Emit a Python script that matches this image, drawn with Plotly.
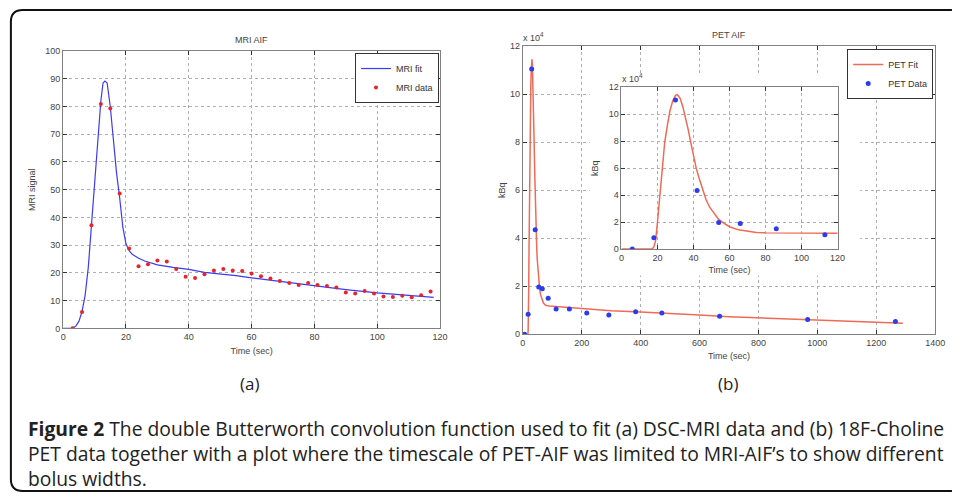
import numpy as np
import plotly.graph_objects as go

W, H = 957, 497

# ---------------- data ----------------
mri_time = [3, 6, 9, 12, 15, 18, 21, 24, 27, 30, 33, 36, 39, 42, 45, 48, 51, 54, 57, 60,
            63, 66, 69, 72, 75, 78, 81, 84, 87, 90, 93, 96, 99, 102, 105, 108, 111, 114, 117]
mri_signal = [0, 5.9, 37.2, 80.9, 79.3, 48.6, 28.8, 22.4, 23.1, 24.5, 24.1, 21.4, 18.6, 18.2,
              19.5, 20.9, 21.4, 20.9, 20.7, 19.8, 18.8, 18.0, 17.1, 16.4, 15.6, 16.4, 15.6,
              15.3, 14.7, 12.9, 12.6, 13.5, 12.6, 11.5, 11.3, 11.8, 11.2, 11.9, 13.3]

mri_fit_time = [0, 3, 4, 5, 6, 7, 8, 9, 10, 11, 12, 12.7, 13.3, 14, 15, 16, 17, 18, 19, 20,
                21, 22, 23, 24, 26, 30, 35, 40, 45, 50, 55, 60, 70, 80, 90, 100, 110, 118]
mri_fit = [0, 0, 0.8, 2.5, 6, 12, 22, 36, 50, 67, 82, 88.5, 89.2, 88.5, 80, 67, 56, 47, 36.5,
           30.5, 28, 26.7, 25.9, 25.3, 24.3, 22.9, 22.0, 21.3, 20.2, 19.7, 19.0, 18.2, 16.8,
           15.3, 14.0, 12.8, 12.0, 11.2]

pet_time = [6, 18, 30, 42, 54, 66, 86, 113, 158, 217, 292, 383, 472, 668, 967, 1265]
pet_kbq = [0, 8300, 110500, 43500, 19700, 18900, 15000, 10500, 10500, 8800, 8000, 9400,
           8800, 7500, 6100, 5300]

pet_fit_time = [0, 17, 18, 19, 20, 21, 22, 23, 24, 25.5, 27, 28.5, 30, 31, 32.5, 34, 35.5, 37,
                38.5, 40, 41.5, 43, 45, 47, 49, 51, 54, 57, 60, 65, 70, 75, 80, 90, 100, 120,
                200, 300, 400, 500, 600, 700, 800, 900, 1000, 1100, 1200, 1290]
pet_fit = [0, 0, 1500, 6600, 20000, 35000, 52000, 67000, 79000, 92000, 103000, 110000, 114000,
           114500, 112000, 106000, 98000, 89000, 79000, 69000, 60000, 53000, 44000, 36500,
           31000, 27000, 22000, 19000, 16500, 14200, 13000, 12300, 12000, 11800, 11700, 11600,
           10700, 9800, 9300, 8500, 8000, 7300, 6800, 6200, 5800, 5400, 5000, 4600]

caption_lines = [
    "<b>Figure 2</b> The double Butterworth convolution function used to fit (a) DSC-MRI data and (b) 18F-Choline",
    "PET data together with a plot where the timescale of PET-AIF was limited to MRI-AIF\u2019s to show different",
    "bolus widths.",
]

# ---------------- helpers ----------------
def px(x):
    return x / W


def py(y):
    return 1 - y / H


SCALE = 1e4
pet_y = np.array(pet_kbq) / SCALE
pet_fit_y = np.array(pet_fit) / SCALE

FONT = "Liberation Sans, Arial, sans-serif"
CAPFONT = "Open Sans, sans-serif"
TICKC = "#444444"
AXC = "#808080"
GRIDC = "#b0b0b0"

fig = go.Figure()

# MRI
fig.add_trace(go.Scatter(x=mri_fit_time, y=mri_fit, mode="lines", name="MRI fit",
                         line=dict(color="#3b3bf5", width=1.2), xaxis="x", yaxis="y",
                         legend="legend"))
fig.add_trace(go.Scatter(x=mri_time, y=mri_signal, mode="markers", name="MRI data",
                         marker=dict(color="#e8232a", size=4), xaxis="x", yaxis="y",
                         legend="legend"))
# PET main
fig.add_trace(go.Scatter(x=pet_fit_time, y=pet_fit_y, mode="lines", name="PET Fit",
                         line=dict(color="#f06a55", width=1.5), xaxis="x2", yaxis="y2",
                         legend="legend2"))
fig.add_trace(go.Scatter(x=pet_time, y=pet_y, mode="markers", name="PET Data",
                         marker=dict(color="#2a3cf0", size=5), xaxis="x2", yaxis="y2",
                         legend="legend2"))
# PET inset
fig.add_trace(go.Scatter(x=pet_fit_time, y=pet_fit_y, mode="lines", showlegend=False,
                         line=dict(color="#f06a55", width=1.5), xaxis="x3", yaxis="y3"))
fig.add_trace(go.Scatter(x=pet_time, y=pet_y, mode="markers", showlegend=False,
                         marker=dict(color="#2a3cf0", size=5), xaxis="x3", yaxis="y3"))


def axis(domain, rng, dtick, anchor, title=None, standoff=4):
    d = dict(domain=domain, range=rng, dtick=dtick, anchor=anchor,
             showline=True, linecolor=AXC, linewidth=1, mirror="ticks",
             ticks="inside", ticklen=4, tickcolor="#333333",
             showgrid=True, gridcolor=GRIDC, griddash="dot", gridwidth=1,
             zeroline=False, tickfont=dict(family=FONT, size=9, color=TICKC),
             fixedrange=True)
    if title:
        d["title"] = dict(text=title, font=dict(family=FONT, size=9, color=TICKC),
                          standoff=standoff)
    return d


X2_RANGE = [0, 1400]
Y2_RANGE = [0, 12]

fig.update_layout(
    width=W, height=H, autosize=False,
    margin=dict(l=0, r=0, t=0, b=0),
    paper_bgcolor="white", plot_bgcolor="white",
    xaxis=axis([px(61), px(443)], [0, 120], 20, "y", "Time (sec)", 6),
    yaxis=axis([py(330), py(47)], [0, 100], 10, "x", "MRI signal", 8),
    xaxis2=axis([px(527), px(945)], X2_RANGE, 200, "y2", "Time (sec)", 5),
    yaxis2=axis([py(336), py(42)], Y2_RANGE, 2, "x2", "kBq", 2),
    xaxis3=axis([px(627), px(846)], [0, 120], 20, "y3", "Time (sec)", 4),
    yaxis3=axis([py(249), py(84)], [0, 12], 2, "x3", "kBq", 8),
    legend=dict(x=px(442), y=py(49), xanchor="right", yanchor="top",
                bgcolor="white", bordercolor="#333333", borderwidth=1,
                font=dict(family=FONT, size=9, color="#333333"),
                itemwidth=30, tracegroupgap=0),
    legend2=dict(x=px(943), y=py(45), xanchor="right", yanchor="top",
                 bgcolor="white", bordercolor="#333333", borderwidth=1,
                 font=dict(family=FONT, size=9, color="#333333"),
                 itemwidth=30, tracegroupgap=0),
    showlegend=True,
)

shapes = []
# white panel of the inset figure hiding the main grid behind it
fx0, fx1 = (595 - 527) / 418, (869 - 527) / 418
fy0, fy1 = (336 - 276) / 294, (336 - 70) / 294
shapes.append(dict(type="rect", xref="x2", yref="y2",
                   x0=X2_RANGE[0] + fx0 * (X2_RANGE[1] - X2_RANGE[0]),
                   x1=X2_RANGE[0] + fx1 * (X2_RANGE[1] - X2_RANGE[0]),
                   y0=Y2_RANGE[0] + fy0 * (Y2_RANGE[1] - Y2_RANGE[0]),
                   y1=Y2_RANGE[0] + fy1 * (Y2_RANGE[1] - Y2_RANGE[0]),
                   fillcolor="white", line=dict(width=0), layer="between"))
# outer rounded frame
r = 12
path = (f"M {px(W + 5)},{py(5)} L {px(8 + r)},{py(5)} "
        f"Q {px(8)},{py(5)} {px(8)},{py(5 + r)} "
        f"L {px(8)},{py(496 - r)} Q {px(8)},{py(496)} {px(8 + r)},{py(496)} "
        f"L {px(W + 5)},{py(496)}")
shapes.append(dict(type="path", xref="paper", yref="paper", path=path,
                   line=dict(color="#111111", width=2), layer="above"))
fig.update_layout(shapes=shapes)


def text(t, x, y, size, family=FONT, color=TICKC, xanchor="center", yanchor="middle",
         align="center"):
    return dict(text=t, x=px(x), y=py(y), xref="paper", yref="paper",
                xanchor=xanchor, yanchor=yanchor, showarrow=False, align=align,
                font=dict(family=family, size=size, color=color))


ann = [
    text("MRI AIF", 252, 36, 9),
    text("PET AIF", 736, 31, 9),
    text("x 10<sup>4</sup>", 525, 41, 9, xanchor="left", yanchor="bottom"),
    text("x 10<sup>4</sup>", 625, 83, 9, xanchor="left", yanchor="bottom"),
    text("(a)", 250, 386, 17, family=CAPFONT, color="#222222"),
    text("(b)", 735, 386, 17, family=CAPFONT, color="#222222"),
    text("<br>".join(caption_lines), 23, 458, 19.3, family=CAPFONT, color="#222222",
         xanchor="left", align="left"),
]
fig.update_layout(annotations=ann)

fig.write_html("out.html", config={"displayModeBar": False},
               post_script="document.body.style.margin='0';")
